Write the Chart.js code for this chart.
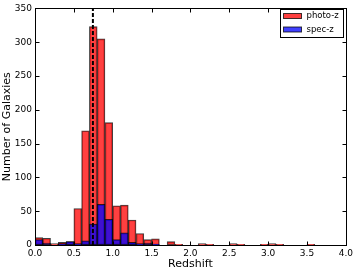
<!DOCTYPE html>
<html>
<head>
<meta charset="utf-8">
<script src="https://cdn.jsdelivr.net/npm/chart.js@4/dist/chart.umd.min.js"></script>
<style>
  html, body { margin: 0; padding: 0; background: #fff; }
  #wrap { width: 356px; height: 271px; }
</style>
</head>
<body>
<div id="wrap"><canvas id="chart" width="356" height="271"></canvas></div>
<script>
// histogram bins, width 0.1, left edges
const binStarts = [0.0, 0.1, 0.2, 0.3, 0.4, 0.5, 0.6, 0.7, 0.8, 0.9,
                   1.0, 1.1, 1.2, 1.3, 1.4, 1.5, 1.6, 1.7, 1.8, 1.9,
                   2.0, 2.1, 2.2, 2.3, 2.4, 2.5, 2.6, 2.7, 2.8, 2.9,
                   3.0, 3.1, 3.2, 3.3, 3.4, 3.5, 3.6, 3.7, 3.8, 3.9];
const binWidth = 0.1;
const photoZ = [11, 10, 2, 4, 5, 54, 169, 323, 305, 181,
                58, 59, 37, 17, 8, 9, 0, 5, 1, 0,
                0, 2, 1, 0, 0, 2, 1, 0, 0, 1,
                2, 1, 0, 0, 0, 1, 0, 0, 0, 0];
const specZ = [8, 3, 0, 2, 5, 2, 6, 31, 60, 38,
               8, 18, 4, 2, 3, 1, 0, 0, 0, 0,
               0, 0, 0, 0, 0, 0, 0, 0, 0, 0,
               0, 0, 0, 0, 0, 0, 0, 0, 0, 0];
const medianZ = 0.745;
const xTicks = [0.0, 0.5, 1.0, 1.5, 2.0, 2.5, 3.0, 3.5, 4.0];
const yTicks = [0, 50, 100, 150, 200, 250, 300, 350];

const photoColor = 'rgba(255, 0, 0, 0.75)';
const specColor = 'rgba(0, 0, 255, 0.75)';
const FONT = 'DejaVu Sans';

function toPoints(values) {
  return binStarts.map((x0, i) => ({ x: x0 + binWidth / 2, y: values[i] }));
}

// matplotlib style frame with inward ticks
const framePlugin = {
  id: 'frame',
  afterDatasetsDraw(chart) {
    const { ctx, chartArea: a, scales } = chart;
    const L = Math.round(a.left) + 0.5, R = Math.round(a.right) + 0.5;
    const T = Math.round(a.top) + 0.5, B = Math.round(a.bottom) + 0.5;
    ctx.save();
    ctx.strokeStyle = '#000';
    ctx.lineWidth = 1;
    ctx.strokeRect(L, T, R - L, B - T);
    ctx.beginPath();
    xTicks.forEach(v => {
      const px = Math.round(scales.x.getPixelForValue(v)) + 0.5;
      ctx.moveTo(px, B); ctx.lineTo(px, B - 4);
      ctx.moveTo(px, T); ctx.lineTo(px, T + 4);
    });
    yTicks.forEach(v => {
      const py = Math.round(scales.y.getPixelForValue(v)) + 0.5;
      ctx.moveTo(L, py); ctx.lineTo(L + 4, py);
      ctx.moveTo(R, py); ctx.lineTo(R - 4, py);
    });
    ctx.stroke();
    ctx.restore();
  },
  afterDraw(chart) {
    // legend inside the plot, upper right
    const { ctx } = chart;
    const items = [
      { label: chart.data.datasets[0].label, color: photoColor },
      { label: chart.data.datasets[1].label, color: specColor }
    ];
    ctx.save();
    ctx.fillStyle = '#fff';
    ctx.fillRect(280.5, 9.5, 63, 28);
    ctx.strokeStyle = '#000';
    ctx.lineWidth = 1;
    ctx.strokeRect(280.5, 9.5, 63, 28);
    items.forEach((it, i) => {
      const y = 13.5 + i * 13.5;
      ctx.fillStyle = it.color;
      ctx.fillRect(283.5, y, 18, 5);
      ctx.strokeStyle = 'rgba(0,0,0,0.75)';
      ctx.strokeRect(283.5, y, 18, 5);
      ctx.fillStyle = '#000';
      ctx.font = '8.5px "' + FONT + '"';
      ctx.textBaseline = 'middle';
      ctx.fillText(it.label, 306.5, y + 2.5);
    });
    ctx.restore();
  }
};

new Chart(document.getElementById('chart'), {
  type: 'bar',
  data: {
    datasets: [
      {
        label: 'photo-z',
        data: toPoints(photoZ),
        backgroundColor: photoColor,
        borderColor: 'rgba(0,0,0,0.75)',
        borderWidth: 1,
        borderSkipped: false,
        grouped: false,
        barPercentage: 1,
        categoryPercentage: 1,
        order: 2
      },
      {
        label: 'spec-z',
        data: toPoints(specZ),
        backgroundColor: specColor,
        borderColor: 'rgba(0,0,0,0.75)',
        borderWidth: 1,
        borderSkipped: false,
        grouped: false,
        barPercentage: 1,
        categoryPercentage: 1,
        order: 1
      },
      {
        type: 'line',
        label: 'median',
        data: [{ x: medianZ, y: 0 }, { x: medianZ, y: 350 }],
        borderColor: '#000',
        borderWidth: 2,
        borderDash: [4, 2],
        pointRadius: 0,
        fill: false,
        order: 0
      }
    ]
  },
  options: {
    responsive: false,
    animation: false,
    devicePixelRatio: 1,
    layout: { padding: { top: 5, right: 10, left: 0, bottom: 0 } },
    plugins: {
      legend: { display: false },
      tooltip: { enabled: false }
    },
    scales: {
      x: {
        type: 'linear',
        offset: false,
        min: 0,
        max: 4,
        grid: { display: false, drawTicks: false },
        border: { display: false },
        afterBuildTicks(scale) { scale.ticks = xTicks.map(v => ({ value: v })); },
        afterFit(scale) { scale.height = 26; },
        ticks: {
          padding: 3,
          maxRotation: 0,
          color: '#000',
          font: { family: FONT, size: 9 },
          callback: v => Number(v).toFixed(1)
        },
        title: {
          display: true,
          text: 'Redshift',
          color: '#000',
          padding: 0,
          font: { family: FONT, size: 11 }
        }
      },
      y: {
        min: 0,
        max: 350,
        grid: { display: false, drawTicks: false },
        border: { display: false },
        afterBuildTicks(scale) { scale.ticks = yTicks.map(v => ({ value: v })); },
        afterFit(scale) { scale.width = 35; },
        ticks: {
          padding: 3,
          color: '#000',
          font: { family: FONT, size: 9 }
        },
        title: {
          display: true,
          text: 'Number of Galaxies',
          color: '#000',
          padding: { top: 1, bottom: 0 },
          font: { family: FONT, size: 11 }
        }
      }
    }
  },
  plugins: [framePlugin]
});
</script>
</body>
</html>
